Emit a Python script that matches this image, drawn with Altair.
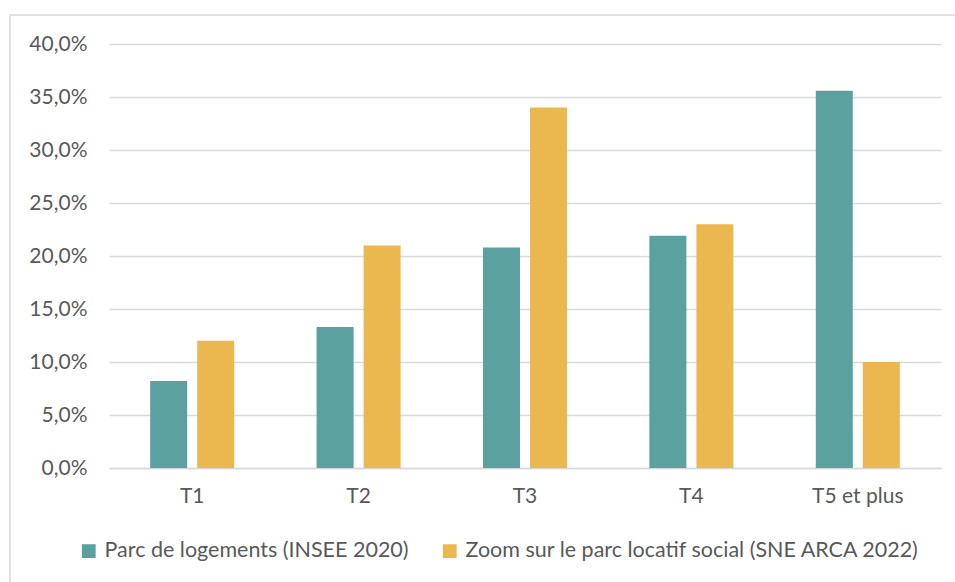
import altair as alt
import pandas as pd

# Room sizes and the two sources being compared
categories = ["T1", "T2", "T3", "T4", "T5 et plus"]
series_names = [
    "Parc de logements (INSEE 2020)",
    "Zoom sur le parc locatif social (SNE ARCA 2022)",
]
parc_logements = [0.082, 0.133, 0.208, 0.219, 0.356]
parc_social = [0.120, 0.210, 0.340, 0.230, 0.100]
y_ticks = [0.0, 0.05, 0.10, 0.15, 0.20, 0.25, 0.30, 0.35, 0.40]

colors = ["#5aa19f", "#ebb74f"]
text_color = "#595959"
grid_color = "#d9d9d9"
font = "Lato"

rows = []
for i, cat in enumerate(categories):
    rows.append({"cat": cat, "serie": series_names[0], "val": parc_logements[i]})
    rows.append({"cat": cat, "serie": series_names[1], "val": parc_social[i]})
df = pd.DataFrame(rows)

bars = alt.Chart(df).mark_bar().encode(
    x=alt.X(
        "cat:N",
        sort=categories,
        title=None,
        scale=alt.Scale(paddingInner=0.495, paddingOuter=0.2475),
        axis=alt.Axis(
            labelAngle=0,
            ticks=False,
            grid=False,
            domain=True,
            domainColor=grid_color,
            domainWidth=1.5,
            labelPadding=17,
            labelFont=font,
            labelFontSize=21,
            labelColor=text_color,
        ),
    ),
    xOffset=alt.XOffset(
        "serie:N",
        sort=series_names,
        scale=alt.Scale(paddingInner=0.213, paddingOuter=0),
    ),
    y=alt.Y(
        "val:Q",
        title=None,
        scale=alt.Scale(domain=[0, 0.4], nice=False),
        axis=alt.Axis(
            values=y_ticks,
            labelExpr="replace(format(datum.value, '.1%'), '.', ',')",
            ticks=False,
            domain=False,
            gridColor=grid_color,
            gridWidth=1.5,
            labelPadding=22,
            labelFont=font,
            labelFontSize=21,
            labelColor=text_color,
        ),
    ),
    color=alt.Color(
        "serie:N",
        sort=series_names,
        scale=alt.Scale(domain=series_names, range=colors),
        legend=alt.Legend(
            title=None,
            orient="none",
            direction="horizontal",
            legendX=-31,
            legendY=496,
            symbolType="square",
            symbolSize=190,
            symbolStrokeWidth=0,
            labelFont=font,
            labelFontSize=21.5,
            labelColor=text_color,
            labelOffset=5,
            columnPadding=30,
            labelLimit=700,
        ),
    ),
)

# Thin frame around the whole figure
frame = alt.Chart(pd.DataFrame({"k": [0]})).mark_rect(
    fill=None, stroke=grid_color, strokeWidth=1.5
).encode(
    x=alt.value(-99),
    y=alt.value(-29),
    x2=alt.value(900),
    y2=alt.value(600),
)

chart = (
    alt.layer(frame, bars)
    .properties(
        width=832,
        height=424,
        autosize=alt.AutoSizeParams(type="none"),
        padding={"left": 109, "top": 44, "right": 14, "bottom": 114},
        view=alt.ViewBackground(stroke="transparent", strokeWidth=0),
    )
    .configure_view(strokeWidth=0, stroke="transparent")
    .configure(background="white")
)

chart.save("out.html", embed_options={"renderer": "svg", "actions": False})
